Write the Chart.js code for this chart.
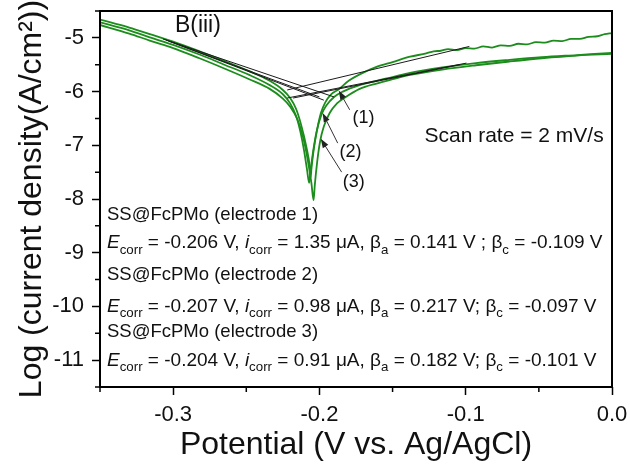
<!DOCTYPE html>
<html><head><meta charset="utf-8">
<script src="https://cdn.jsdelivr.net/npm/chart.js@4.4.1/dist/chart.umd.min.js"></script>
<style>html,body{margin:0;padding:0;background:#fff;}canvas{display:block;}</style>
</head><body>
<canvas id="c" width="630" height="465"></canvas>
<script>
const FONT = '"Liberation Sans", Arial, Helvetica, sans-serif';

// ---- Data (Potential in V vs Ag/AgCl, log current density) ----
const potential1 = [-0.35,-0.33,-0.316,-0.30,-0.282,-0.265,-0.248,-0.234,-0.225,-0.22,-0.216,-0.2125,-0.209,-0.2065,-0.206,
  -0.2055,-0.204,-0.2015,-0.199,-0.196,-0.192,-0.187,-0.18,-0.1725,-0.161,-0.15,-0.138,-0.127,
  -0.122,-0.117,-0.112,-0.106,-0.10,-0.094,-0.088,-0.082,-0.076,-0.07,-0.064,-0.058,-0.052,-0.046,-0.04,-0.034,-0.028,-0.022,-0.016,-0.01,-0.005,0.0];
const logI1 = [-4.66,-4.81,-4.93,-5.07,-5.25,-5.43,-5.62,-5.80,-5.97,-6.12,-6.32,-6.62,-7.02,-7.42,-7.60,
  -7.45,-7.10,-6.70,-6.40,-6.20,-6.05,-5.96,-5.80,-5.68,-5.54,-5.45,-5.35,-5.29,
  -5.25,-5.24,-5.21,-5.23,-5.19,-5.20,-5.16,-5.18,-5.14,-5.15,-5.11,-5.12,-5.08,-5.09,-5.05,-5.06,-5.02,-5.02,-4.98,-4.97,-4.93,-4.91];

const potential2 = [-0.35,-0.33,-0.316,-0.30,-0.282,-0.265,-0.248,-0.234,-0.225,-0.22,-0.216,-0.213,-0.2105,-0.2085,-0.207,
  -0.2062,-0.2045,-0.202,-0.1985,-0.195,-0.19,-0.184,-0.1725,-0.161,-0.15,-0.138,-0.116,-0.093,-0.07,-0.048,-0.024,0.0];
const logI2 = [-4.71,-4.86,-4.99,-5.13,-5.31,-5.50,-5.69,-5.88,-6.05,-6.22,-6.45,-6.75,-7.10,-7.45,-7.70,
  -7.50,-7.15,-6.75,-6.42,-6.25,-6.10,-6.00,-5.88,-5.80,-5.73,-5.65,-5.55,-5.47,-5.41,-5.36,-5.32,-5.28];

const potential3 = [-0.35,-0.33,-0.316,-0.30,-0.282,-0.265,-0.248,-0.234,-0.225,-0.22,-0.215,-0.211,-0.208,-0.2055,-0.204,
  -0.2032,-0.2015,-0.1995,-0.197,-0.193,-0.188,-0.182,-0.1725,-0.161,-0.15,-0.138,-0.116,-0.093,-0.07,-0.048,-0.024,0.0];
const logI3 = [-4.76,-4.92,-5.05,-5.19,-5.38,-5.57,-5.77,-5.95,-6.13,-6.28,-6.52,-6.87,-7.27,-7.70,-8.02,
  -7.75,-7.30,-6.92,-6.65,-6.40,-6.22,-6.10,-5.95,-5.85,-5.77,-5.69,-5.59,-5.51,-5.44,-5.38,-5.33,-5.30];

// Tafel fit lines: [x1, x2] and [y1, y2]
const tafelX = [[-0.307,-0.190],[-0.305,-0.197],[-0.303,-0.200],[-0.0975,-0.222],[-0.0995,-0.222],[-0.104,-0.218]];
const tafelY = [[-5.02,-6.10],[-5.04,-6.16],[-5.06,-6.10],[-5.16,-5.97],[-5.47,-6.12],[-5.50,-6.12]];

// Axis ticks
const xMajorTicks = [-0.3,-0.2,-0.1,0.0];
const xMinorTicks = [-0.35,-0.25,-0.15,-0.05];
const yMajorTicks = [-11,-10,-9,-8,-7,-6,-5];
const yMinorTicks = [-11.5,-10.5,-9.5,-8.5,-7.5,-6.5,-5.5,-4.5];

// Annotation texts
const electrodeNames = ['SS@FcPMo (electrode 1)','SS@FcPMo (electrode 2)','SS@FcPMo (electrode 3)'];
const eCorr = ['-0.206','-0.207','-0.204'];
const iCorr = ['1.35','0.98','0.91'];
const betaA = ['0.141 V ;','0.217 V;','0.182 V;'];
const betaC = ['-0.109','-0.097','-0.101'];
const curveLabels = ['(1)','(2)','(3)'];
const labelPos = [[-0.1698,-6.49],[-0.1787,-7.12],[-0.1766,-7.68]];
const arrowTail = [[-0.1793,-6.34],[-0.1875,-6.96],[-0.1848,-7.50]];
const arrowHead = [[-0.1868,-5.98],[-0.1978,-6.40],[-0.1991,-6.88]];
const textRowsY = [-8.389,-8.909,-9.504,-10.099,-10.563,-11.102];
const textLeftX = -0.3452;

const GREEN = 'rgb(28,140,28)';
const pts = (xs, ys) => xs.map((v,i)=>({x:v, y:ys[i]}));

const datasets = [];
tafelX.forEach((xs,i)=>datasets.push({data:pts(xs,tafelY[i]), borderColor:'#1a1a1a', borderWidth:1, showLine:true, pointRadius:0}));
[[potential1,logI1],[potential2,logI2],[potential3,logI3]].forEach(([xs,ys])=>datasets.push({
  data:pts(xs,ys), borderColor:GREEN, borderWidth:1.8, showLine:true, pointRadius:0, cubicInterpolationMode:'monotone'
}));

function drawRich(ctx, x, y, parts, size){
  let cx = x;
  parts.forEach(([t,s])=>{
    let f = `${size}px ${FONT}`, dy = 0;
    if (s==='i') f = `italic ${size}px ${FONT}`;
    if (s==='sub'){ f = `${(size*0.7).toFixed(1)}px ${FONT}`; dy = size*0.3; }
    ctx.font = f;
    ctx.fillText(t, cx, y+dy);
    cx += ctx.measureText(t).width;
  });
}

const decor = {
  id:'decor',
  afterDraw(chart){
    const {ctx, chartArea:a, scales:{x,y}} = chart;
    ctx.save();
    ctx.strokeStyle='#000'; ctx.lineWidth=2;
    ctx.strokeRect(a.left, a.top, a.right-a.left, a.bottom-a.top);
    ctx.lineWidth=1.5;
    ctx.beginPath();
    xMinorTicks.forEach(v=>{const p=x.getPixelForValue(v); ctx.moveTo(p,a.bottom); ctx.lineTo(p,a.bottom+5);});
    yMinorTicks.forEach(v=>{const p=y.getPixelForValue(v); ctx.moveTo(a.left,p); ctx.lineTo(a.left-5,p);});
    ctx.stroke();

    ctx.fillStyle='#111';
    ctx.textBaseline='alphabetic'; ctx.textAlign='left';
    ctx.font = `23px ${FONT}`;
    ctx.fillText('B(iii)', x.getPixelForValue(-0.2988), y.getPixelForValue(-4.894));
    ctx.font = `21px ${FONT}`;
    ctx.fillText('Scan rate = 2 mV/s', x.getPixelForValue(-0.1282), y.getPixelForValue(-6.939));
    ctx.font = `18px ${FONT}`; ctx.textAlign='center'; ctx.textBaseline='middle';
    curveLabels.forEach((t,i)=>ctx.fillText(t, x.getPixelForValue(labelPos[i][0]), y.getPixelForValue(labelPos[i][1])));
    ctx.strokeStyle='#333'; ctx.fillStyle='#222'; ctx.lineWidth=1;
    arrowTail.forEach((tl,i)=>{
      const x1=x.getPixelForValue(tl[0]), y1=y.getPixelForValue(tl[1]);
      const x2=x.getPixelForValue(arrowHead[i][0]), y2=y.getPixelForValue(arrowHead[i][1]);
      const ang=Math.atan2(y2-y1,x2-x1), L=9, W=3.2;
      ctx.beginPath(); ctx.moveTo(x1,y1); ctx.lineTo(x2-Math.cos(ang)*L*0.8, y2-Math.sin(ang)*L*0.8); ctx.stroke();
      ctx.beginPath();
      ctx.moveTo(x2,y2);
      ctx.lineTo(x2-L*Math.cos(ang)+W*Math.sin(ang), y2-L*Math.sin(ang)-W*Math.cos(ang));
      ctx.lineTo(x2-L*Math.cos(ang)-W*Math.sin(ang), y2-L*Math.sin(ang)+W*Math.cos(ang));
      ctx.closePath(); ctx.fill();
    });
    ctx.fillStyle='#111'; ctx.textAlign='left'; ctx.textBaseline='alphabetic';
    const tx = x.getPixelForValue(textLeftX);
    for (let k=0;k<3;k++){
      ctx.font = `18.5px ${FONT}`;
      ctx.fillText(electrodeNames[k], tx, y.getPixelForValue(textRowsY[2*k]));
      drawRich(ctx, tx, y.getPixelForValue(textRowsY[2*k+1]), [
        ['E','i'],['corr','sub'],[' = '+eCorr[k]+' V, ','n'],['i','i'],['corr','sub'],
        [' = '+iCorr[k]+' \u03BCA, \u03B2','n'],['a','sub'],[' = '+betaA[k]+' \u03B2','n'],['c','sub'],[' = '+betaC[k]+' V','n']
      ], 19);
    }
    ctx.restore();
  }
};

new Chart(document.getElementById('c'), {
  type:'scatter',
  data:{datasets},
  options:{
    responsive:false, animation:false, devicePixelRatio:1,
    layout:{autoPadding:false, padding:{left:0, right:18, top:11, bottom:0}},
    plugins:{legend:{display:false}, tooltip:{enabled:false}},
    scales:{
      x:{
        type:'linear', min:-0.35, max:0.0,
        afterBuildTicks:s=>{s.ticks = xMajorTicks.map(v=>({value:v}));},
        afterFit:s=>{s.height=78; s.paddingLeft=0; s.paddingRight=0;},
        ticks:{color:'#111', font:{family:FONT, size:22}, padding:7, maxRotation:0, autoSkip:false,
          callback:v=>Number(v).toFixed(1)},
        grid:{display:true, drawOnChartArea:false, drawTicks:true, tickLength:8, tickColor:'#000', tickWidth:1.5},
        border:{display:false},
        title:{display:true, text:'Potential (V vs. Ag/AgCl)', color:'#111', font:{family:FONT, size:32}, padding:{top:0,bottom:1}}
      },
      y:{
        type:'linear', min:-11.5, max:-4.5,
        afterBuildTicks:s=>{s.ticks = yMajorTicks.map(v=>({value:v}));},
        afterFit:s=>{s.width=100; s.paddingTop=0; s.paddingBottom=0;},
        ticks:{color:'#111', font:{family:FONT, size:22}, padding:8, autoSkip:false,
          callback:v=>String(v)},
        grid:{display:true, drawOnChartArea:false, drawTicks:true, tickLength:8, tickColor:'#000', tickWidth:1.5},
        border:{display:false},
        title:{display:true, text:'Log (current density(A/cm\u00B2))', color:'#111', font:{family:FONT, size:32}, padding:{top:13,bottom:0}}
      }
    }
  },
  plugins:[decor]
});
</script>
</body></html>
